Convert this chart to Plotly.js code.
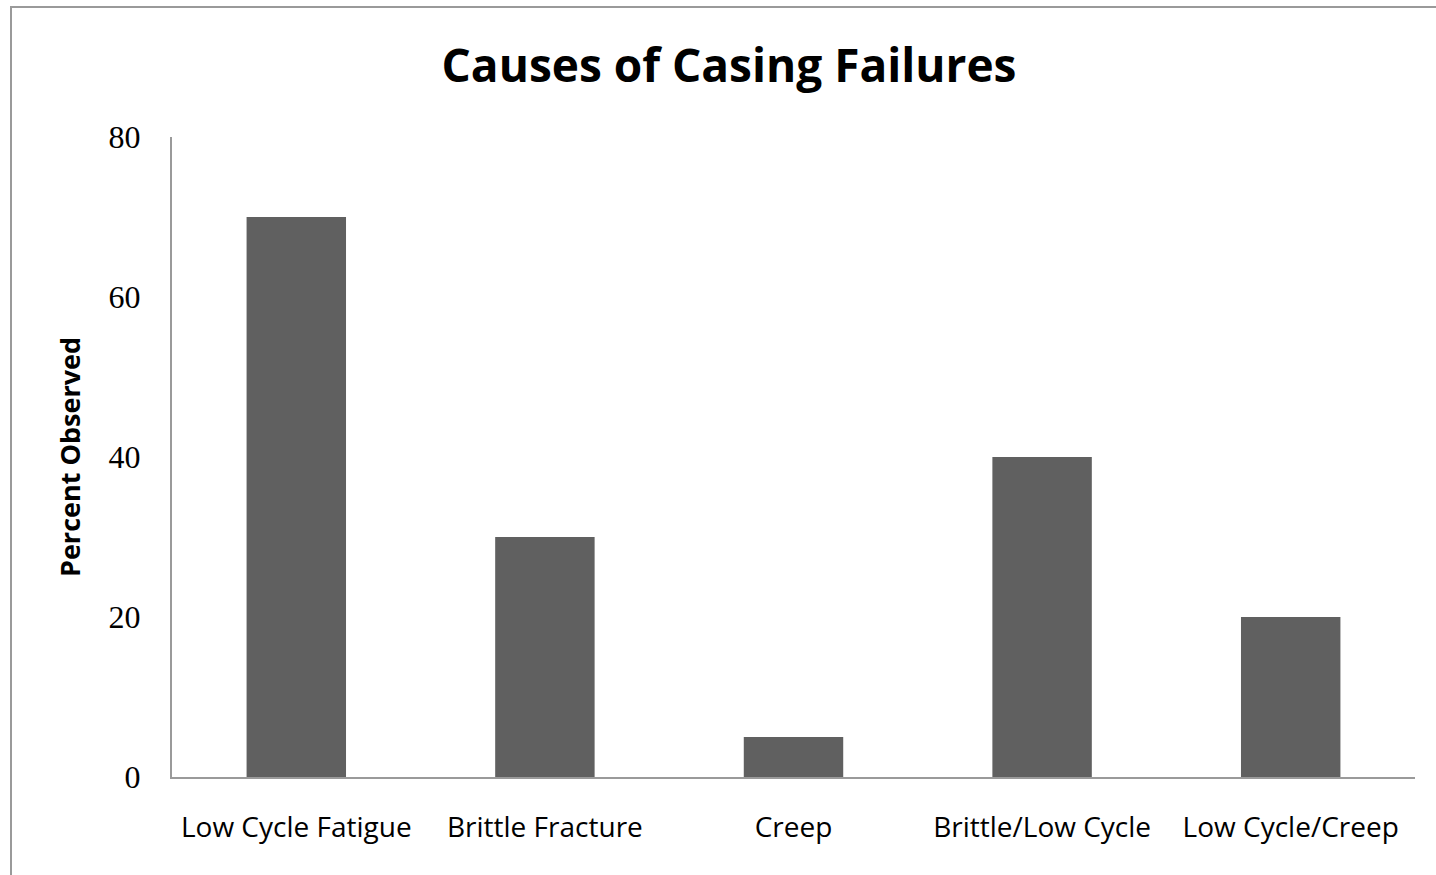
<!DOCTYPE html>
<html>
<head>
<meta charset="utf-8">
<script src="https://cdn.plot.ly/plotly-3.0.1.min.js"></script>
<style>
  html, body { margin: 0; padding: 0; background: #fff; overflow: hidden; }
  #frame { position: absolute; left: 10px; top: 6px; width: 1440px; height: 880px;
           border-left: 2px solid #9a9a9a; border-top: 2px solid #9a9a9a; pointer-events: none; z-index: 2; }
  #chart { position: absolute; left: 0; top: 0; width: 1436px; height: 875px; }
</style>
</head>
<body>
<div id="chart"></div>
<div id="frame"></div>
<script>
const categories = ["Low Cycle Fatigue", "Brittle Fracture", "Creep", "Brittle/Low Cycle", "Low Cycle/Creep"];
const percentObserved = [70, 30, 5, 40, 20];
const yTicks = [0, 20, 40, 60, 80];

const trace = {
  type: "bar",
  x: categories,
  y: percentObserved,
  marker: { color: "#606060", line: { width: 0 } },
  hoverinfo: "x+y"
};

const layout = {
  width: 1436,
  height: 875,
  paper_bgcolor: "#ffffff",
  plot_bgcolor: "#ffffff",
  margin: { l: 172, r: 21, t: 137, b: 98, pad: 0 },
  bargap: 0.6,
  showlegend: false,
  title: {
    text: "<b>Causes of Casing Failures</b>",
    font: { family: "Open Sans, sans-serif", size: 46, color: "#000" },
    x: 729 / 1436, xref: "container", xanchor: "center",
    y: 1 - 66 / 875, yref: "container", yanchor: "middle"
  },
  xaxis: {
    type: "category",
    showline: true, linecolor: "#9a9a9a", linewidth: 2,
    showgrid: false, zeroline: false, ticks: "",
    ticklabelstandoff: 24,
    tickfont: { family: "Open Sans, sans-serif", size: 28, color: "#000" },
    automargin: false
  },
  yaxis: {
    range: [0, 80],
    tickvals: yTicks,
    ticktext: yTicks.map(String),
    showline: true, linecolor: "#9a9a9a", linewidth: 2,
    showgrid: false, zeroline: false, ticks: "",
    ticklabelstandoff: 23,
    tickfont: { family: "Liberation Serif, serif", size: 32, color: "#000" },
    title: {
      text: "<b>Percent Observed</b>",
      font: { family: "Open Sans, sans-serif", size: 27, color: "#000" },
      standoff: 20
    },
    automargin: false
  }
};

Plotly.newPlot("chart", [trace], layout, { displayModeBar: false });
</script>
</body>
</html>
